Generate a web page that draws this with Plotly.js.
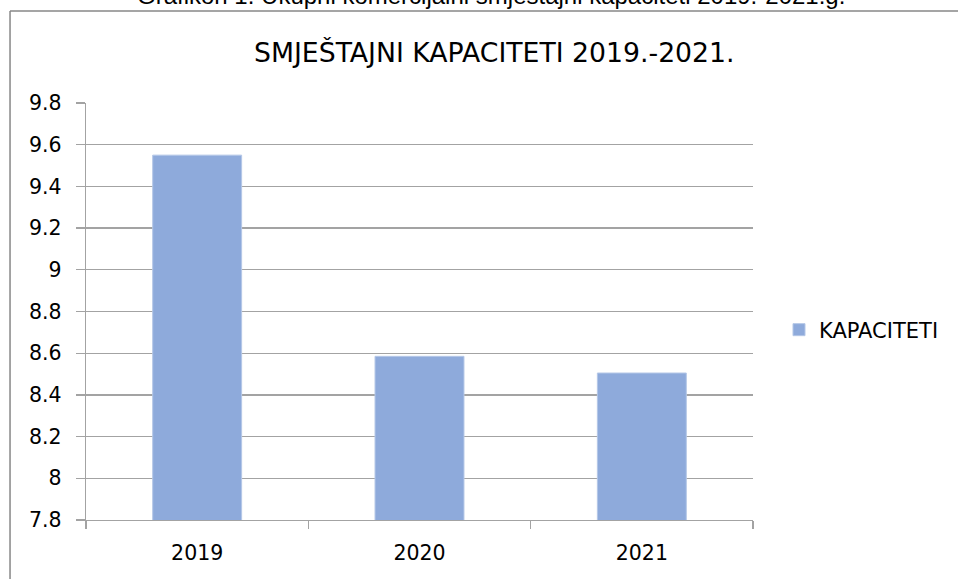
<!DOCTYPE html>
<html>
<head>
<meta charset="utf-8">
<script src="https://cdn.plot.ly/plotly-3.0.1.min.js"></script>
<style>html,body{margin:0;padding:0;background:#fff;}#chart{width:958px;height:579px;}</style>
</head>
<body>
<div id="chart"></div>
<script>
const categories = ["2019", "2020", "2021"];
const kapaciteti = [9.55, 8.585, 8.505];
const seriesName = "KAPACITETI";
const yTickVals = [7.8, 8, 8.2, 8.4, 8.6, 8.8, 9, 9.2, 9.4, 9.6, 9.8];
const yTickText = ["7.8", "8", "8.2", "8.4", "8.6", "8.8", "9", "9.2", "9.4", "9.6", "9.8"];
const chartTitle = "SMJEŠTAJNI KAPACITETI 2019.-2021.";
const captionText = "Grafikon 1. Ukupni komercijalni smještajni kapaciteti 2019.-2021.g.";

const FONT = "DejaVu Sans, sans-serif";
const GRID = "#a3a3a3";

const trace = {
  type: "bar",
  x: categories,
  y: kapaciteti,
  name: seriesName,
  marker: {color: "#8eaadb", line: {color: "#b4c7e7", width: 1}},
  showlegend: true
};

const layout = {
  width: 958, height: 579,
  margin: {l: 86, r: 205, t: 103, b: 59, pad: 0},
  paper_bgcolor: "#ffffff",
  plot_bgcolor: "#ffffff",
  bargap: 0.6,
  showlegend: true,
  legend: {
    x: 1.039, y: 0.4556, xanchor: "left", yanchor: "middle",
    font: {family: FONT, size: 21, color: "#000"},
    bgcolor: "rgba(0,0,0,0)"
  },
  xaxis: {
    type: "category",
    tickson: "boundaries",
    ticks: "outside", ticklen: 8, tickcolor: GRID, tickwidth: 1.3,
    showline: true, linecolor: GRID, linewidth: 1.3,
    showgrid: false,
    tickfont: {family: FONT, size: 20.5, color: "#000"},
    ticklabelstandoff: 14,
    fixedrange: true
  },
  yaxis: {
    range: [7.8, 9.8],
    tickmode: "array", tickvals: yTickVals, ticktext: yTickText,
    ticks: "outside", ticklen: 9, tickcolor: GRID, tickwidth: 1.3,
    showline: true, linecolor: GRID, linewidth: 1.3,
    showgrid: true, gridcolor: GRID, gridwidth: 1.3,
    zeroline: false,
    tickfont: {family: FONT, size: 20.5, color: "#000"},
    ticklabelstandoff: 10,
    fixedrange: true
  },
  annotations: [
    {
      text: chartTitle, xref: "paper", yref: "paper",
      x: 0.6117, y: 1.12, xanchor: "center", yanchor: "middle",
      showarrow: false,
      font: {family: FONT, size: 26.7, color: "#000"}
    },
    {
      text: captionText, xref: "paper", yref: "paper",
      x: 0.607, y: 1.2206, xanchor: "center", yanchor: "bottom",
      showarrow: false,
      font: {family: "Liberation Sans, Arial, sans-serif", size: 24, color: "#000"}
    }
  ],
  shapes: [
    {type: "line", xref: "paper", yref: "paper", x0: -0.1139, x1: 1.31, y0: 1.2206, y1: 1.2206,
     line: {color: "#878787", width: 1.5}},
    {type: "line", xref: "paper", yref: "paper", x0: -0.1139, x1: -0.1139, y0: 1.2206, y1: -0.15,
     line: {color: "#878787", width: 1.5}}
  ]
};

Plotly.newPlot("chart", [trace], layout, {displayModeBar: false, staticPlot: true});
</script>
</body>
</html>
